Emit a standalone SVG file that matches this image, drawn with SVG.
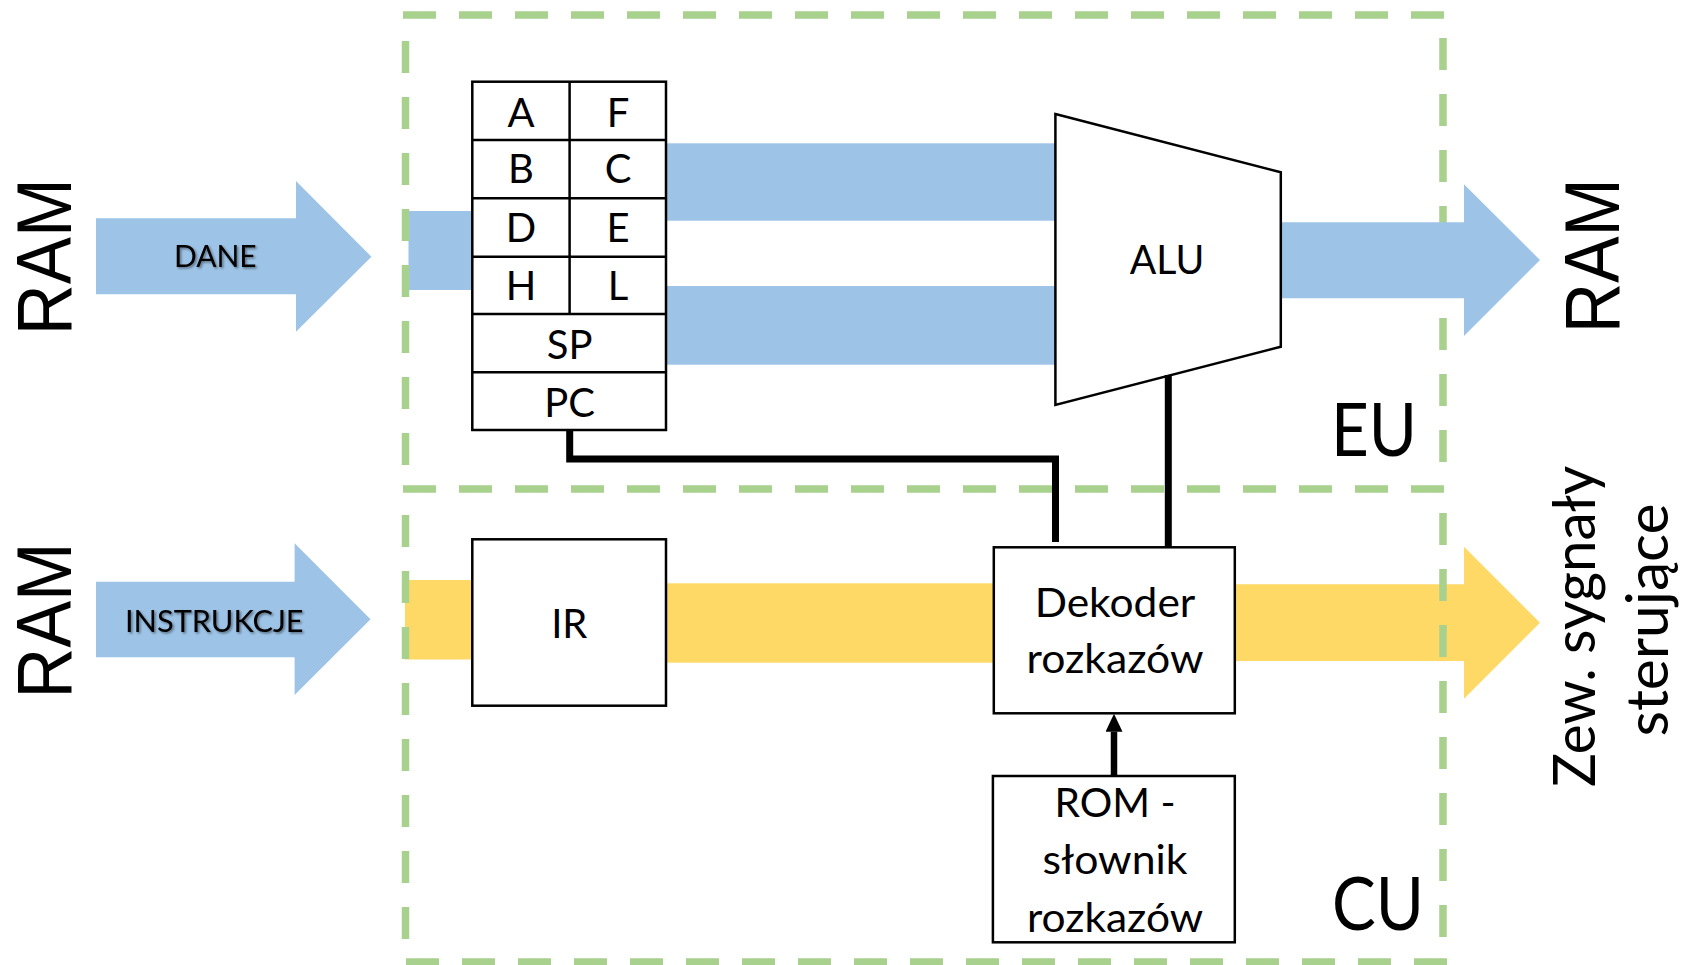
<svg xmlns="http://www.w3.org/2000/svg" width="1685" height="965" viewBox="0 0 1685 965">
<style>
text{font-family:Lato,"Open Sans","Liberation Sans",sans-serif;fill:#000;text-anchor:middle}
.box{fill:#fff;stroke:#000;stroke-width:2.5}
.blue{fill:#9DC3E6}
.yellow{fill:#FFD966}
.frame{stroke:#A9D18E;stroke-width:7.5;fill:none}
.fh{stroke-dasharray:33 23}
.fv{stroke-dasharray:32 24}
.reg{font-size:40px}
.big{font-size:78px;font-family:"Liberation Sans",Arial,sans-serif}
.unit{font-size:73px}
.side{font-size:58px}
.lbl{font-size:30px}
.wire{stroke:#000;stroke-width:7;fill:none}
</style>
<defs>
<marker id="ah" markerUnits="userSpaceOnUse" markerWidth="19" markerHeight="18" refX="0" refY="8.5" orient="auto">
<path d="M0,0 L18,8.5 L0,17 z" fill="#000"/>
</marker>
<filter id="sh" x="-20%" y="-40%" width="140%" height="180%">
<feDropShadow dx="1.5" dy="1.5" stdDeviation="1.2" flood-color="#000" flood-opacity="0.45"/>
</filter>
</defs>

<!-- buses under the frame -->
<g id="buses">
<rect class="yellow" x="405" y="580" width="68" height="79.5"/>
<rect class="yellow" x="666" y="583.3" width="328" height="79.4"/>
<polygon id="out-ctrl" class="yellow" points="1235,584.3 1464,584.3 1464,546.7 1540,622.7 1464,698.7 1464,661 1235,661"/>
<rect class="blue" x="408.5" y="211" width="64" height="79"/>
<rect class="blue" x="666" y="143.3" width="389.5" height="77.4"/>
<rect class="blue" x="666" y="286" width="389.5" height="78.7"/>
</g>

<!-- dashed frames -->
<g id="EU-frame">
<line class="frame fh" x1="403" y1="15" x2="1447" y2="15"/>
<line class="frame fv" x1="405.5" y1="41" x2="405.5" y2="466"/>
<line class="frame fv" x1="1443" y1="38" x2="1443" y2="466"/>
</g>
<g id="CU-frame">
<line class="frame fh" x1="403" y1="489" x2="1447" y2="489"/>
<line class="frame fv" x1="405.5" y1="515" x2="405.5" y2="939"/>
<line class="frame fv" x1="1443" y1="513" x2="1443" y2="937"/>
<line class="frame fh" x1="406" y1="962" x2="1447" y2="962"/>
</g>

<polygon id="out-ram" class="blue" points="1281,222.3 1464,222.3 1464,184.3 1540,260 1464,336 1464,298.3 1281,298.3"/>

<g id="in-dane">
<polygon class="blue" points="96,218.3 296,218.3 296,181 371.4,256.7 296,331.7 296,294.3 96,294.3"/>
<text class="lbl" x="215.3" y="266.7" textLength="82.7" lengthAdjust="spacingAndGlyphs" filter="url(#sh)">DANE</text>
</g>
<g id="in-instr">
<polygon class="blue" points="96,581.7 294.6,581.7 294.6,543.3 370.5,619.3 294.6,695 294.6,657.3 96,657.3"/>
<text class="lbl" x="214.3" y="631.7" textLength="178.6" lengthAdjust="spacingAndGlyphs" filter="url(#sh)">INSTRUKCJE</text>
</g>

<g id="ram-left-top"><text class="big" transform="translate(71.4,256.7) rotate(-90)" textLength="157" lengthAdjust="spacingAndGlyphs">RAM</text></g>
<g id="ram-left-bottom"><text class="big" transform="translate(70.5,620.5) rotate(-90)" textLength="156" lengthAdjust="spacingAndGlyphs">RAM</text></g>
<g id="ram-right"><text class="big" transform="translate(1619.3,255.8) rotate(-90)" textLength="155" lengthAdjust="spacingAndGlyphs">RAM</text></g>
<g id="signals">
<text class="side" transform="translate(1594.5,626.5) rotate(-90)" textLength="321" lengthAdjust="spacingAndGlyphs">Zew. sygnały</text>
<text class="side" transform="translate(1668,620) rotate(-90)" textLength="233" lengthAdjust="spacingAndGlyphs">sterujące</text>
</g>

<g id="registers">
<rect class="box" x="472.3" y="81.7" width="193.7" height="348.3"/>
<line class="box" x1="569.6" y1="81.7" x2="569.6" y2="314"/>
<line class="box" x1="472.3" y1="140" x2="666" y2="140"/>
<line class="box" x1="472.3" y1="198.3" x2="666" y2="198.3"/>
<line class="box" x1="472.3" y1="256.7" x2="666" y2="256.7"/>
<line class="box" x1="472.3" y1="314" x2="666" y2="314"/>
<line class="box" x1="472.3" y1="372.3" x2="666" y2="372.3"/>
<text class="reg" x="521" y="126.7">A</text>
<text class="reg" x="618" y="126.7">F</text>
<text class="reg" x="521" y="183.3">B</text>
<text class="reg" x="618" y="183.3">C</text>
<text class="reg" x="521" y="241.7">D</text>
<text class="reg" x="618" y="241.7">E</text>
<text class="reg" x="521" y="300">H</text>
<text class="reg" x="618" y="300">L</text>
<text class="reg" x="569.6" y="359">SP</text>
<text class="reg" x="569.6" y="416.7">PC</text>
</g>

<g id="alu">
<polygon class="box" points="1055.4,114 1280.8,172.3 1280.8,346.7 1055.4,405"/>
<text class="reg" x="1167" y="274" textLength="74.5" lengthAdjust="spacingAndGlyphs">ALU</text>
</g>

<g id="ir">
<rect class="box" x="472.3" y="539.3" width="193.7" height="166.4"/>
<text class="reg" x="569.3" y="638.3">IR</text>
</g>

<g id="dekoder">
<rect class="box" x="993.8" y="547.3" width="241" height="166"/>
<text class="reg" x="1115" y="617.3" textLength="160.7" lengthAdjust="spacingAndGlyphs">Dekoder</text>
<text class="reg" x="1115" y="673.3" textLength="177" lengthAdjust="spacingAndGlyphs">rozkazów</text>
</g>

<g id="rom">
<rect class="box" x="992.9" y="776" width="241.9" height="166.3"/>
<text class="reg" x="1115" y="817.3" textLength="121" lengthAdjust="spacingAndGlyphs">ROM -</text>
<text class="reg" x="1115" y="874.3" textLength="145" lengthAdjust="spacingAndGlyphs">słownik</text>
<text class="reg" x="1115" y="931.7" textLength="176" lengthAdjust="spacingAndGlyphs">rozkazów</text>
</g>

<g id="unit-labels">
<text class="unit" x="1374" y="456" textLength="86" lengthAdjust="spacingAndGlyphs">EU</text>
<text class="unit" x="1378" y="930" textLength="92" lengthAdjust="spacingAndGlyphs">CU</text>
</g>

<g id="connectors">
<polyline class="wire" points="569.7,430 569.7,459 1055.5,459 1055.5,542"/>
<line class="wire" x1="1168.3" y1="375" x2="1168.3" y2="547.3"/>
<line stroke="#000" stroke-width="6.5" x1="1114" y1="776" x2="1114" y2="731.7" marker-end="url(#ah)"/>
</g>
</svg>
